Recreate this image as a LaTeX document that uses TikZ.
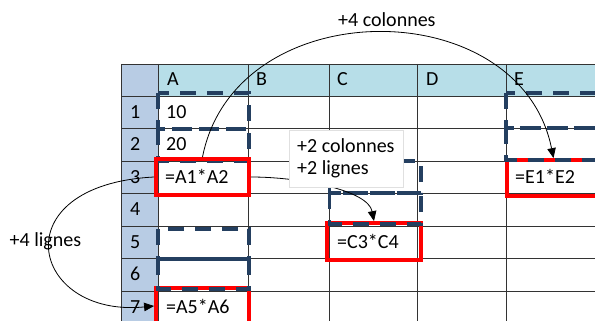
\documentclass[tikz,border=0pt]{standalone}
\usepackage{fontspec}
\setmainfont{Carlito}
\usetikzlibrary{arrows.meta}
\definecolor{colhead}{HTML}{B7DEE8}
\definecolor{rowhead}{HTML}{B8CCE4}
\definecolor{navy}{HTML}{243F60}
\definecolor{gridc}{HTML}{333333}
\begin{document}
\begin{tikzpicture}[x=1pt,y=-1pt,
  txt/.style={anchor=base west, inner sep=0pt, font=\fontsize{20}{24}\selectfont},
  gridline/.style={draw=gridc, line width=0.8pt},
  dashbox/.style={draw=navy, line width=3.8pt, dash pattern=on 16pt off 11pt},
  redbox/.style={draw=red, line width=3.8pt, inner sep=0pt, rectangle},
  conn/.style={draw=black, line width=0.8pt, -{Triangle[length=10pt,width=8.5pt]}},
  labelbox/.style={draw=black!12, fill=white, line width=0.8pt, inner sep=0pt, rectangle},
]
\useasboundingbox (0,0) rectangle (595,321);
\clip (0,0) rectangle (595,321);
% header fills
\fill[colhead] (158,64) rectangle (600,96);
\fill[rowhead] (121,64) rectangle (158,330);
% grid
\foreach \yy in {64,96,128.5,161,193.5,226,258.5,291}
  \draw[gridline] (121,\yy) -- (600,\yy);
\foreach \xx in {121,158,248,329.5,417.5,506}
  \draw[gridline] (\xx,64) -- (\xx,330);
% header texts
\node[txt] (hA) at (167,86) {A};
\node[txt] (hB) at (256,86) {B};
\node[txt] (hC) at (337,86) {C};
\node[txt] (hD) at (426,86) {D};
\node[txt] (hE) at (514,86) {E};
\node[txt] (r1) at (130,118) {1};
\node[txt] (r2) at (130,150.5) {2};
\node[txt] (r3) at (130,183) {3};
\node[txt] (r4) at (130,215.5) {4};
\node[txt] (r5) at (130,248) {5};
\node[txt] (r6) at (130,280.5) {6};
\node[txt] (r7) at (130,313) {7};
% dashed precedents A1, A2
\draw[dashbox] (158,93) rectangle (249,129);
\draw[dashbox] (158,129) rectangle (249,161);
% red boxes
\node[redbox, minimum width=93pt, minimum height=36pt] (ra3) at (202.5,177) {};
\node[redbox, minimum width=94pt, minimum height=37pt] (rc5) at (374,241.5) {};
\node[redbox, minimum width=93pt, minimum height=36pt] (re3) at (553.5,178) {};
\node[redbox, minimum width=93pt, minimum height=42pt] (ra7) at (202.5,309) {};
% other dashed precedents
\draw[dashbox] (329.5,161) rectangle (421,193);
\draw[dashbox] (329.5,193) rectangle (421,224);
\draw[dashbox] (506,93) rectangle (597,128);
\draw[dashbox] (506,128) rectangle (597,160);
\draw[dashbox] (158,229) rectangle (249,259);
\draw[dashbox] (158,259) rectangle (249,289);
% cell values
\node[txt] (vA1) at (166,118) {10};
\node[txt] (vA2) at (166,150.5) {20};
\node[txt] (fA3) at (165,183) {=A1*A2};
\node[txt] (fE3) at (515,183) {=E1*E2};
\node[txt] (fC5) at (337,248) {=C3*C4};
\node[txt] (fA7) at (166,313) {=A5*A6};
% connectors
\draw[conn] (ra3.north) .. controls (235,-9) and (520,-9) .. (re3.north);
\draw[conn] (ra3.east) .. controls (300,177) and (368,190) .. (rc5.north);
\draw[conn] (ra3.west) .. controls (0,185) and (30,318) .. ([yshift=3pt]ra7.west);
% label box
\node[labelbox, minimum width=114pt, minimum height=57pt] (lbl) at (346,158.5) {};
\node[txt] (t2col) at (297,153) {+2 colonnes};
\node[txt] (t2lig) at (297,175) {+2 lignes};
\node[txt] (t4col) at (338,26.5) {+4 colonnes};
\node[txt] (t4lig) at (9.5,246.5) {+4 lignes};
\end{tikzpicture}
\end{document}
